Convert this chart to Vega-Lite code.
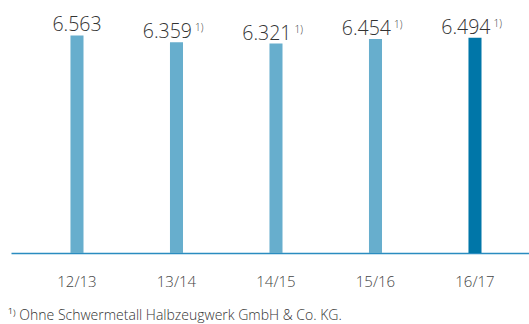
{
  "$schema": "https://vega.github.io/schema/vega-lite/v6.json",
  "width": 518,
  "height": 232,
  "autosize": "none",
  "padding": {"left": 11, "top": 21, "right": 0, "bottom": 71},
  "background": "white",
  "config": {"view": {"stroke": null}, "font": "Open Sans"},
  "data": {"values": [
    {"year": "12/13", "value": 6563, "label": "6.563", "note": "", "current": "nein"},
    {"year": "13/14", "value": 6359, "label": "6.359", "note": "1)", "current": "nein"},
    {"year": "14/15", "value": 6321, "label": "6.321", "note": "1)", "current": "nein"},
    {"year": "15/16", "value": 6454, "label": "6.454", "note": "1)", "current": "nein"},
    {"year": "16/17", "value": 6494, "label": "6.494", "note": "1)", "current": "ja"}
  ]},
  "title": {
    "text": "¹⁾ Ohne Schwermetall Halbzeugwerk GmbH & Co. KG.",
    "orient": "bottom",
    "anchor": "start",
    "frame": "group",
    "offset": 20,
    "dx": -3,
    "fontSize": 14,
    "fontWeight": 300,
    "color": "#333333",
    "font": "Open Sans"
  },
  "encoding": {
    "x": {
      "field": "year", "type": "nominal", "sort": null,
      "scale": {"paddingInner": 0.869, "paddingOuter": 0.5375, "align": 0.556},
      "axis": {
        "title": null, "labelAngle": 0, "ticks": false,
        "domainColor": "#2a8cc0", "domainWidth": 1.5,
        "labelFontSize": 15, "labelColor": "#444444", "labelPadding": 21,
        "labelFont": "Open Sans", "labelFontWeight": 300
      }
    },
    "y": {
      "field": "value", "type": "quantitative",
      "scale": {"domain": [0, 7000]},
      "axis": null
    }
  },
  "layer": [
    {
      "mark": {"type": "bar"},
      "encoding": {
        "color": {
          "field": "current", "type": "nominal",
          "scale": {"domain": ["nein", "ja"], "range": ["#67aecd", "#0076a8"]},
          "legend": null
        }
      }
    },
    {
      "transform": [{"filter": "datum.note == ''"}],
      "mark": {"type": "text", "align": "center", "baseline": "alphabetic", "dy": -4, "fontSize": 19.5, "fontWeight": 300, "color": "#333333"},
      "encoding": {"text": {"field": "label"}}
    },
    {
      "transform": [{"filter": "datum.note != ''"}],
      "mark": {"type": "text", "align": "right", "baseline": "alphabetic", "dx": 15.5, "dy": -4, "fontSize": 19.5, "fontWeight": 300, "color": "#333333"},
      "encoding": {"text": {"field": "label"}}
    },
    {
      "transform": [{"filter": "datum.note != ''"}],
      "mark": {"type": "text", "align": "left", "baseline": "alphabetic", "dx": 18.5, "dy": -11, "fontSize": 10, "fontWeight": 300, "color": "#333333"},
      "encoding": {"text": {"field": "note"}}
    }
  ]
}
